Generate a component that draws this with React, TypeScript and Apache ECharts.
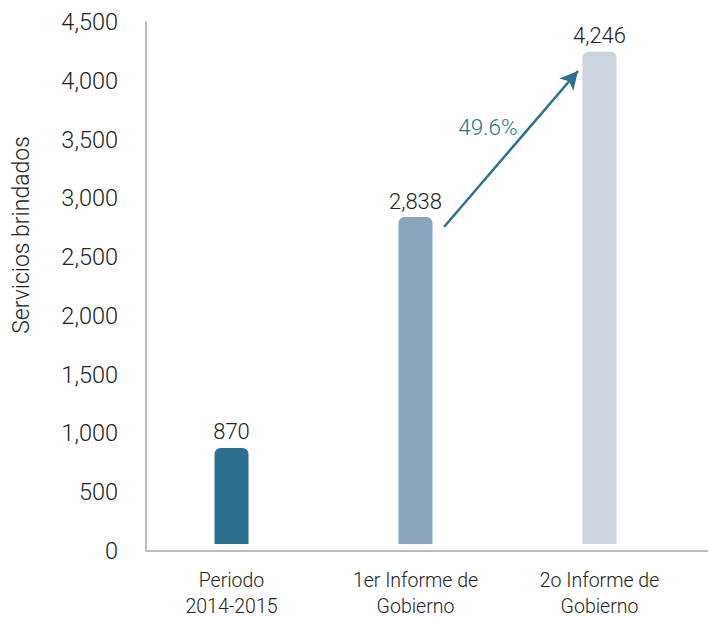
import React, { useEffect, useRef } from "react";
import * as echarts from "echarts";

const categories = ["Periodo\n2014-2015", "1er Informe de\nGobierno", "2o Informe de\nGobierno"];
const values = [870, 2838, 4246];
const barColors = ["#2c708f", "#8ba3bb", "#cbd3df"];
const yTicks = { min: 0, max: 4500, interval: 500 };
const growthLabel = "49.6%";
const yAxisTitle = "Servicios brindados";

const FONT = "Roboto, 'Liberation Sans', sans-serif";

export default function App() {
  const ref = useRef<HTMLDivElement>(null);
  useEffect(() => {
    document.body.style.margin = "0";
    if (!ref.current) return;
    const chart = echarts.init(ref.current, null, { renderer: "svg" });
    const axisGray = "#bdbdbd";
    chart.setOption({
      animation: false,
      backgroundColor: "#ffffff",
      textStyle: { fontFamily: FONT, fontWeight: 300 },
      grid: [
        { left: 146, right: 0, top: 22, bottom: 68 },
        { left: 139.5, width: 552, top: 22, bottom: 68 },
      ],
      xAxis: [
        {
          type: "category",
          gridIndex: 0,
          data: ["a"],
          axisLine: { show: true, lineStyle: { color: axisGray, width: 2 } },
          axisTick: { show: false },
          axisLabel: { show: false },
          splitLine: { show: false },
        },
        {
          type: "category",
          gridIndex: 1,
          data: categories,
          axisLine: { show: false },
          axisTick: { show: false },
          axisLabel: {
            color: "#222",
            fontSize: 19.5,
            lineHeight: 26,
            margin: 17,
            fontFamily: FONT,
            fontWeight: 300,
          },
        },
      ],
      yAxis: [
        {
          type: "value",
          gridIndex: 0,
          min: yTicks.min,
          max: yTicks.max,
          interval: yTicks.interval,
          axisLine: { show: true, lineStyle: { color: axisGray, width: 2 } },
          axisTick: { show: false },
          splitLine: { show: false },
          axisLabel: {
            color: "#222",
            fontSize: 23.5,
            margin: 28,
            fontFamily: FONT,
            fontWeight: 300,
            formatter: (v: number) => v.toLocaleString("en-US"),
          },
        },
        {
          type: "value",
          gridIndex: 1,
          min: yTicks.min,
          max: yTicks.max,
          interval: yTicks.interval,
          show: false,
        },
      ],
      series: [
        {
          type: "bar",
          xAxisIndex: 1,
          yAxisIndex: 1,
          barWidth: 34,
          data: values.map((v, i) => ({
            value: v,
            itemStyle: { color: barColors[i], borderRadius: [6, 6, 0, 0] },
          })),
          label: {
            show: true,
            position: "top",
            distance: 5,
            color: "#222",
            fontSize: 22,
            fontFamily: FONT,
            fontWeight: 300,
            formatter: (p: any) => Number(p.value).toLocaleString("en-US"),
          },
          markLine: {
            silent: true,
            symbol: ["none", "arrow"],
            symbolSize: [14, 18],
            label: { show: false },
            lineStyle: { color: "#2b7290", width: 2.5, type: "solid" },
            data: [[{ x: 444, y: 227 }, { x: 578, y: 71 }]],
          },
        },
      ],
      graphic: [
        {
          type: "rect",
          z: 100,
          shape: { x: 147, y: 544, width: 561, height: 6 },
          style: { fill: "#ffffff" },
        },
        {
          type: "text",
          x: 488,
          y: 127,
          style: {
            text: growthLabel,
            fill: "#2a7393",
            font: `300 22.5px ${FONT}`,
            align: "center",
            verticalAlign: "middle",
          },
        },
        {
          type: "text",
          x: 21,
          y: 235,
          rotation: Math.PI / 2,
          style: {
            text: yAxisTitle,
            fill: "#222",
            font: `300 23px ${FONT}`,
            align: "center",
            verticalAlign: "middle",
          },
        },
      ],
    });
    return () => chart.dispose();
  }, []);
  return <div ref={ref} style={{ width: 708, height: 619 }} />;
}
